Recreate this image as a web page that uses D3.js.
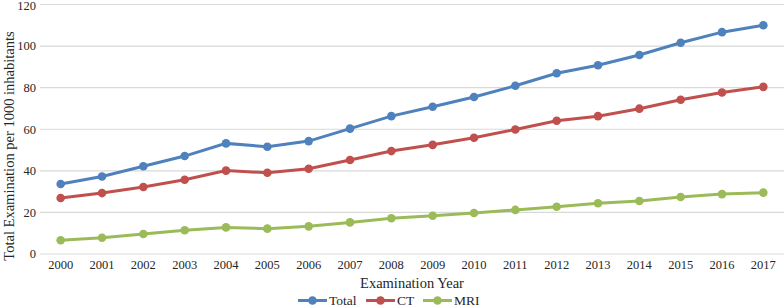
<!DOCTYPE html>
<html>
<head>
<meta charset="utf-8">
<script src="https://cdn.jsdelivr.net/npm/d3@7"></script>
<style>
  body { margin: 0; background: #fff; }
  text { font-family: "Liberation Serif", "Times New Roman", serif; fill: #262626; }
</style>
</head>
<body>
<div id="chart"></div>
<script>
const years = ["2000","2001","2002","2003","2004","2005","2006","2007","2008",
               "2009","2010","2011","2012","2013","2014","2015","2016","2017"];
const total = [33.7,37.3,42.2,47.1,53.2,51.6,54.3,60.3,66.3,70.8,75.5,80.9,86.9,90.8,95.7,101.6,106.7,110];
const ct    = [26.9,29.3,32.2,35.7,40.1,39.1,41.0,45.2,49.5,52.5,55.9,59.9,64.1,66.3,69.9,74.2,77.7,80.4];
const mri   = [6.6,7.8,9.6,11.4,12.8,12.2,13.3,15.2,17.2,18.4,19.7,21.2,22.7,24.4,25.5,27.4,28.8,29.5];
const yTicks = [0,20,40,60,80,100,120];

const series = [
  {name: "Total", values: total, color: "#4f81bd"},
  {name: "CT", values: ct, color: "#c0504d"},
  {name: "MRI", values: mri, color: "#9bbb59"}
];

const W = 784, H = 308;
const svg = d3.select("#chart").append("svg")
  .attr("width", W).attr("height", H);

const x = d3.scaleBand().domain(years).range([40, 784]);
const y = d3.scaleLinear().domain([0, 120]).range([254, 4.5]);
const cx = d => x(d) + x.bandwidth() / 2;

// gridlines
svg.append("g").selectAll("line").data(yTicks).join("line")
  .attr("x1", 40).attr("x2", 784)
  .attr("y1", d => y(d)).attr("y2", d => y(d))
  .attr("stroke", "#d9d9d9").attr("stroke-width", 1.2);

// y tick labels (top one nudged down so it stays inside)
svg.append("g").selectAll("text").data(yTicks).join("text")
  .attr("x", 36).attr("y", d => Math.max(y(d), 6)).attr("dy", "0.35em")
  .attr("text-anchor", "end").style("font-size", "12.5px")
  .text(d => d);

// x tick labels
svg.append("g").selectAll("text").data(years).join("text")
  .attr("x", d => cx(d)).attr("y", 265).attr("dy", "0.35em")
  .attr("text-anchor", "middle").style("font-size", "12.5px")
  .text(d => d);

// axis titles
svg.append("text")
  .attr("x", 412).attr("y", 283).attr("dy", "0.35em")
  .attr("text-anchor", "middle").style("font-size", "14.5px")
  .text("Examination Year");

svg.append("text")
  .attr("transform", "translate(9,146) rotate(-90)")
  .attr("dy", "0.35em")
  .attr("text-anchor", "middle").style("font-size", "14.5px")
  .text("Total Examination per 1000 inhabitants");

// lines + markers
const line = d3.line().x((d, i) => cx(years[i])).y(d => y(d));
series.slice().reverse().forEach(s => {
  const g = svg.append("g");
  g.append("path").datum(s.values)
    .attr("d", line).attr("fill", "none")
    .attr("stroke", s.color).attr("stroke-width", 3);
  g.selectAll("circle").data(s.values).join("circle")
    .attr("cx", (d, i) => cx(years[i])).attr("cy", d => y(d))
    .attr("r", 4.3).attr("fill", s.color);
});

// legend
const legendX = [298, 366, 423];
const leg = svg.append("g").selectAll("g").data(series).join("g")
  .attr("transform", (d, i) => "translate(" + legendX[i] + ",300.5)");
leg.append("line").attr("x1", 0).attr("x2", 29)
  .attr("stroke", d => d.color).attr("stroke-width", 3);
leg.append("circle").attr("cx", 14.5).attr("r", 4.3).attr("fill", d => d.color);
leg.append("text").attr("x", 31).attr("dy", "0.32em")
  .style("font-size", "13.5px").text(d => d.name);
</script>
</body>
</html>
